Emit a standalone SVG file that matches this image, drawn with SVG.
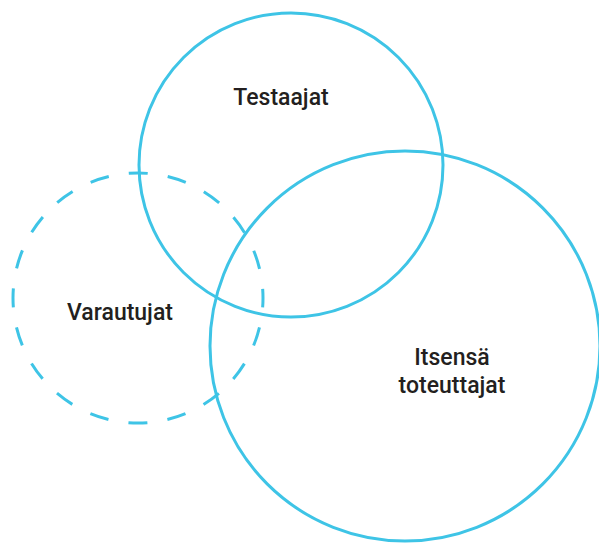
<svg xmlns="http://www.w3.org/2000/svg" width="599" height="543" viewBox="0 0 599 543">
<style>
.c{fill:none;stroke:#3ec4e6;stroke-width:3}
.d{stroke-dasharray:19 20.27;stroke-dashoffset:9.5}
.t{font-family:Roboto,"Liberation Sans",sans-serif;font-size:23px;font-weight:500;fill:#231f20;text-anchor:middle}
</style>
<rect width="599" height="543" fill="#fff"/>
<g id="testaajat">
<circle class="c" cx="291" cy="165" r="152"/>
<text class="t" x="281" y="105">Testaajat</text>
</g>
<g id="itsensa">
<circle class="c" cx="405" cy="346" r="195"/>
<text class="t" x="452" y="365">Itsensä</text>
<text class="t" x="452" y="393">toteuttajat</text>
</g>
<g id="varautujat">
<circle class="c d" cx="138" cy="298" r="125"/>
<text class="t" x="120" y="320">Varautujat</text>
</g>
<g id="connectors"/>
</svg>
